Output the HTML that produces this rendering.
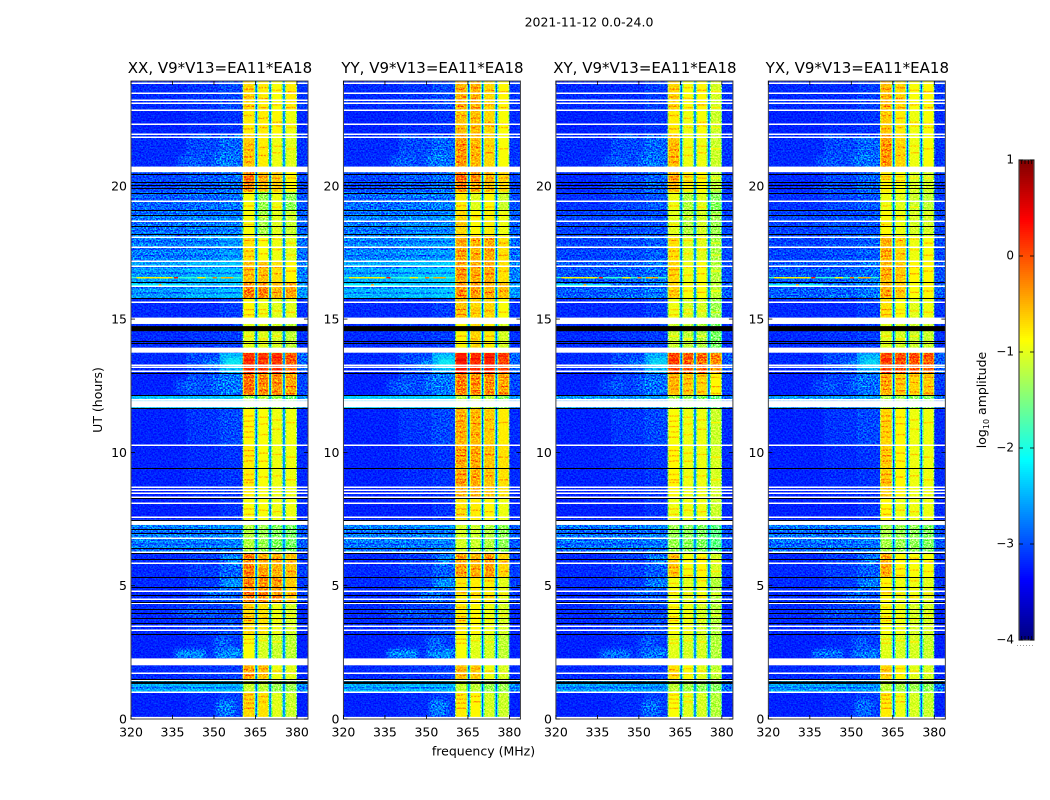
<!DOCTYPE html>
<html>
<head>
<meta charset="utf-8">
<title>2021-11-12 0.0-24.0</title>
<style>
html,body{margin:0;padding:0;background:#fff;}
svg{display:block;}
text{font-family:"DejaVu Sans","Liberation Sans",sans-serif;fill:#000;}
</style>
</head>
<body>
<svg id="figure" xmlns="http://www.w3.org/2000/svg" width="1050" height="800" viewBox="0 0 1050 800">
  <defs>
    <filter id="grain" x="0" y="0" width="100%" height="100%" color-interpolation-filters="sRGB">
      <feTurbulence type="fractalNoise" baseFrequency="0.6 0.65" numOctaves="2" seed="7"/>
      <feColorMatrix values="2.4 0 0 0 -0.75  2.4 0 0 0 -0.75  2.4 0 0 0 -0.75  0 0 0 0 1"/>
    </filter>
    <filter id="soften" filterUnits="userSpaceOnUse" x="0" y="0" width="1050" height="800" color-interpolation-filters="sRGB">
      <feGaussianBlur stdDeviation="2.5"/>
    </filter>
  </defs>
  <text x="589" y="26.500" font-size="12.5" text-anchor="middle">2021-11-12 0.0-24.0</text>
  <g id="panels"></g>
  <text x="483.500" y="755.500" font-size="12.5" text-anchor="middle">frequency (MHz)</text>
  <text transform="translate(102,400) rotate(-90)" font-size="12.5" text-anchor="middle">UT (hours)</text>
  <g id="colorbar"></g>
  <text transform="translate(986,400) rotate(-90)" font-size="12.5" text-anchor="middle">log<tspan font-size="8" dy="3">10</tspan><tspan dy="-3"> amplitude</tspan></text>
</svg>
<script>
const panelTitles = ['XX, V9*V13=EA11*EA18', 'YY, V9*V13=EA11*EA18', 'XY, V9*V13=EA11*EA18', 'YX, V9*V13=EA11*EA18'];
const xTickLabels = [320, 335, 350, 365, 380];
const yTickLabels = [0, 5, 10, 15, 20];
const colorTicks = [1, 0, -1, -2, -3, -4];

/* frequency edges (MHz) of heatmap columns */
const freqEdges = [320, 340, 352, 360.4, 360.8, 364.5, 364.85, 365.1, 365.5, 365.75, 366.1, 369.5, 369.85, 370.1, 370.5, 370.75, 371.1, 374.5, 374.85, 375.1, 375.5, 375.75, 376.1, 379.65, 380, 384];
/* hour edges of heatmap rows, top to bottom */
const hourEdges = [24, 22.91, 22.01, 20.58, 19.83, 19.15, 18.17, 17.19, 16.44, 15.84, 14.86, 13.77, 13.02, 12.19, 11.7, 10.31, 8.31, 7.49, 6.25, 5.34, 4.33, 3.2, 2.26, 1.47, 1.02, 0];

/* log10 amplitude per row: 320-340, 340-352, 352-360, band1, band2, band3, band4, upper edge */
const xxLevels = [
  [-3.15,-3.1,-3,-.7,-.8,-.9,-.8,-3.1],
  [-3.2,-3.15,-3.1,-.8,-.8,-.85,-.95,-3.15],
  [-3.15,-3,-2.85,-.65,-.8,-.95,-1,-3.1],
  [-3,-2.9,-2.8,-.35,-.6,-.65,-.85,-3],
  [-2.85,-2.8,-2.75,-.9,-1.3,-.95,-1.35,-2.95],
  [-2.75,-2.7,-2.65,-.9,-1.25,-1,-1.1,-2.85],
  [-2.7,-2.65,-2.55,-.75,-.9,-.95,-1,-2.8],
  [-2.55,-2.45,-2.4,-.6,-.6,-.75,-.85,-2.7],
  [-2.55,-2.45,-2.4,-.35,-.35,-.55,-.5,-2.6],
  [-3.15,-3.15,-3.05,-.85,-.95,-1,-1,-3.1],
  [-3.15,-3.1,-3.05,-1,-1,-1.05,-1.15,-3.1],
  [-3.15,-3,-2.5,.1,.05,.1,-.1,-2.85],
  [-3.2,-3,-2.75,-.3,-.4,-.4,-.5,-3],
  [-2.4,-2.4,-2.35,-1.3,-1.2,-1.3,-1.5,-2.6],
  [-3.2,-3.1,-3,-.85,-.9,-.95,-.95,-3.15],
  [-3.2,-3.15,-3.1,-.8,-.9,-.95,-.95,-3.15],
  [-3.2,-3.2,-3.1,-.9,-.9,-.95,-.95,-3.15],
  [-2.7,-2.7,-2.65,-1.2,-1.3,-1.4,-1.45,-2.9],
  [-3.15,-3.05,-2.85,-.35,-.5,-.55,-.6,-3.05],
  [-3.15,-3.05,-2.9,-.35,-.4,-.45,-.65,-3.05],
  [-3.15,-3.05,-3,-.7,-.75,-.95,-1.05,-3.15],
  [-3.2,-3.15,-3.05,-.9,-1.05,-1.1,-1.15,-3.2],
  [-3.15,-3.1,-3.05,-.5,-.6,-.95,-1,-3.15],
  [-2.5,-2.45,-2.45,-1.1,-1.15,-1.3,-1.3,-2.7],
  [-3.2,-3.15,-3.05,-.7,-.75,-1,-1.1,-3.2]
];
const yyLevels = [
  [-3.15,-3.1,-3,-.55,-.55,-.7,-.85,-3.1],
  [-3.2,-3.15,-3.1,-.6,-.6,-.7,-.9,-3.15],
  [-3.15,-3,-2.85,-.45,-.55,-.7,-.9,-3.1],
  [-3,-2.9,-2.8,-.3,-.45,-.55,-.7,-3],
  [-2.8,-2.75,-2.7,-.8,-1,-.85,-1.1,-2.95],
  [-2.7,-2.65,-2.6,-.7,-.85,-.8,-.95,-2.85],
  [-2.65,-2.6,-2.55,-.5,-.55,-.5,-.75,-2.8],
  [-2.5,-2.4,-2.35,-.45,-.5,-.5,-.75,-2.7],
  [-2.45,-2.4,-2.35,-.4,-.45,-.5,-.6,-2.6],
  [-3.15,-3.15,-3.05,-.6,-.7,-.7,-.9,-3.1],
  [-3.15,-3.1,-3.05,-.85,-.7,-.8,-1.05,-3.1],
  [-3.15,-3,-2.5,.25,.15,.2,0,-2.85],
  [-3.2,-3,-2.75,-.35,-.4,-.4,-.5,-3],
  [-2.35,-2.35,-2.3,-1.2,-1.1,-1.2,-1.4,-2.6],
  [-3.2,-3.1,-3,-.55,-.55,-.65,-.8,-3.15],
  [-3.2,-3.15,-3.1,-.5,-.5,-.6,-.75,-3.15],
  [-3.2,-3.2,-3.1,-.75,-.8,-.85,-.95,-3.15],
  [-2.7,-2.7,-2.65,-1.05,-1.1,-1.2,-1.35,-2.9],
  [-3.15,-3.05,-2.9,-.5,-.55,-.45,-.7,-3.05],
  [-3.15,-3.05,-2.95,-.8,-.8,-.8,-1,-3.05],
  [-3.15,-3.05,-3,-.8,-.85,-.95,-1.05,-3.15],
  [-3.2,-3.15,-3.05,-.9,-1,-1.05,-1.15,-3.2],
  [-3.15,-3.1,-3.05,-.6,-.65,-.95,-1.05,-3.15],
  [-2.5,-2.45,-2.45,-1.1,-1.15,-1.3,-1.3,-2.7],
  [-3.2,-3.15,-3.05,-.8,-.85,-1.05,-1.1,-3.2]
];
const xyLevels = [
  [-3.15,-3.15,-3.05,-.7,-.9,-.85,-1.05,-3.1],
  [-3.2,-3.15,-3.1,-.8,-.95,-.9,-1.1,-3.15],
  [-3.15,-3,-2.85,-.6,-.95,-.95,-1.1,-3.1],
  [-3.15,-3,-2.85,-.55,-.8,-.85,-1.15,-3.05],
  [-3.1,-3,-2.9,-.95,-1.2,-1,-1.4,-3.05],
  [-3,-2.95,-2.9,-1,-1.2,-1.05,-1.3,-3],
  [-3,-2.95,-2.85,-.75,-1,-1,-1.25,-3],
  [-2.9,-2.85,-2.75,-.7,-.95,-.9,-1.2,-2.95],
  [-2.85,-2.8,-2.7,-.7,-.9,-.9,-1.15,-2.9],
  [-3.15,-3.15,-3.05,-.95,-1.05,-1.05,-1.3,-3.1],
  [-3.15,-3.1,-3.05,-1.1,-1.15,-1.2,-1.45,-3.1],
  [-3.15,-3,-2.55,0,-.15,-.2,-.35,-2.9],
  [-3.2,-3.05,-2.8,-.6,-.65,-.7,-.85,-3.05],
  [-2.6,-2.6,-2.55,-1.3,-1.35,-1.4,-1.6,-2.8],
  [-3.2,-3.1,-3,-.9,-.95,-.95,-1.1,-3.15],
  [-3.2,-3.15,-3.1,-.85,-.95,-.95,-1.05,-3.15],
  [-3.2,-3.2,-3.1,-.95,-.95,-.95,-1.1,-3.15],
  [-2.75,-2.75,-2.7,-1.3,-1.35,-1.4,-1.6,-2.95],
  [-3.15,-3.05,-2.9,-.65,-.9,-.85,-1.05,-3.1],
  [-3.15,-3.05,-2.95,-.95,-1,-.95,-1.2,-3.1],
  [-3.15,-3.05,-3,-.9,-.95,-1.05,-1.2,-3.15],
  [-3.2,-3.15,-3.05,-1,-1.05,-1.05,-1.2,-3.2],
  [-3.15,-3.1,-3.05,-.75,-.9,-1,-1.15,-3.15],
  [-2.55,-2.55,-2.55,-1.15,-1.25,-1.35,-1.4,-2.8],
  [-3.2,-3.15,-3.05,-.9,-1,-1.05,-1.2,-3.2]
];
const yxLevels = [
  [-3.15,-3.15,-3.05,-.6,-.7,-.9,-.85,-3.1],
  [-3.2,-3.15,-3.1,-.65,-.8,-.95,-.9,-3.15],
  [-3.15,-3,-2.85,-.45,-.7,-.95,-.9,-3.1],
  [-3.15,-3,-2.85,-.8,-.9,-1.05,-1.05,-3.05],
  [-3.1,-3,-2.9,-.95,-1,-1.1,-1.15,-3.05],
  [-3,-2.95,-2.9,-.85,-.95,-1.05,-1.05,-3],
  [-3,-2.95,-2.85,-.55,-.7,-.95,-.9,-3],
  [-2.9,-2.85,-2.75,-.55,-.65,-.85,-.85,-2.95],
  [-2.85,-2.8,-2.7,-.55,-.65,-.9,-.85,-2.9],
  [-3.15,-3.15,-3.05,-.75,-.9,-1,-.95,-3.1],
  [-3.15,-3.1,-3.05,-1,-1.05,-1.1,-1.1,-3.1],
  [-3.15,-3,-2.55,0,-.05,-.1,-.15,-2.9],
  [-3.2,-3.05,-2.8,-.55,-.65,-.7,-.65,-3.05],
  [-2.6,-2.6,-2.55,-1.25,-1.3,-1.4,-1.4,-2.8],
  [-3.2,-3.1,-3,-.7,-.85,-.95,-.95,-3.15],
  [-3.2,-3.15,-3.1,-.65,-.85,-.95,-.95,-3.15],
  [-3.2,-3.2,-3.1,-.85,-.95,-.95,-.95,-3.15],
  [-2.75,-2.75,-2.7,-1.25,-1.3,-1.35,-1.4,-2.95],
  [-3.15,-3.05,-2.9,-.55,-.85,-.9,-.9,-3.1],
  [-3.15,-3.05,-2.95,-.85,-.95,-.95,-1,-3.1],
  [-3.15,-3.05,-3,-.9,-.95,-1.05,-1.05,-3.15],
  [-3.2,-3.15,-3.05,-1,-1.05,-1.05,-1.1,-3.2],
  [-3.15,-3.1,-3.05,-.7,-.85,-1,-1.05,-3.15],
  [-2.55,-2.55,-2.55,-1.15,-1.25,-1.3,-1.35,-2.8],
  [-3.2,-3.15,-3.05,-.8,-.95,-1.05,-1.1,-3.2]
];
/* level of the dark line between sub-bands, per panel */
const gapLevels = [-3, -3, -3.05, -3.05];
const shoulderLevel = -2.1;
const bandEdgeDrop = 0.45;
const stripeBoost = 0.27;

/* hours where a sub-band shows a brighter row */
const band1Stripes = [23.7,23.4,23.05,22.7,22.2,21.6,21.4,21.15,20.95,20.4,20.3,19.3,18.6,18,17.6,17.4,16.9,16.7,16.1,15.95,15.4,15.2,14.4,13.5,12.85,12.7,12.55,12.4,11.4,11.2,11,10.8,10.6,10.1,9.9,9.7,9.2,9,8.9,7.9,7.7,6.1,5.7,5.5,5.1,4.75,4.2,3.85,3.7,3,2.85,1.85,1.65,.9,.75,.6,.4];
const band2Stripes = [23.75,23.35,23,22.6,22.25,21.5,21.2,20.4,20.25,18.9,18,17.5,17,16.7,16.1,15.4,15.25,14.3,13.55,12.8,12.6,12.35,11.35,11.1,10.7,10,9.7,9.1,7.85,6,5.65,5.4,4.7,3.8,2.95,1.9,1.7,.85,.65];
const band3Stripes = [23.65,23.1,22.45,22.3,21.55,21.3,20.35,19.25,18.05,17.65,17,16.75,16.05,15.35,14.4,13.6,12.9,12.65,12.3,11.25,10.9,9.95,9.15,7.8,6.05,5.6,5.2,4.6,3.75,2.9,1.8];
const band4Stripes = [23.6,23,22.4,22.25,21.45,20.35,18.95,17.9,17.45,16.85,16.1,15.3,13.65,12.85,12.5,12.25,11.15,9.85,9,5.9,5.55,4.7,3.9,1.75];

/* sky emission patches: low freq, high freq, upper hour, lower hour, level */
const skyPatches = [
  [351, 357.5, 0.7, 0.12, -2.6],
  [336, 347, 2.6, 2.28, -2.4],
  [350, 360, 2.65, 2.28, -2.4],
  [350, 356, 3.1, 2.5, -2.8],
  [354, 360.4, 13.6, 13.2, -2.05],
  [347, 354, 13.5, 13.2, -2.55],
  [336, 345, 12.75, 12.25, -2.85],
  [349, 356, 12.9, 12.3, -2.75],
  [336, 345, 20.1, 19.9, -2.85],
  [337, 346, 21.2, 20.7, -2.85],
  [350, 358, 21.3, 20.7, -2.7],
  [354, 360.4, 6.2, 5.8, -2.55],
  [353, 360.4, 5.3, 4.9, -2.5],
  [347, 356, 4.85, 4.45, -2.75],
  [335, 352, 4.1, 3.9, -2.8]
];
/* narrowband interference: hour, low freq, high freq, level */
const rfiLines = [
  [16.6, 320, 360, -1.85],
  [16.6, 322, 335, -0.8],
  [16.6, 335.5, 337, 0.3],
  [16.6, 344, 347, -0.8],
  [16.6, 349.5, 351, -0.2],
  [16.6, 352.5, 357, -0.5],
  [16.33, 320, 340, -2.1],
  [16.33, 330, 331, -0.4]
];
/* dim striped rows over the low band: upper hour, lower hour */
const dimRows = [
  [19.6, 19.55], [19.05, 19], [18.72, 18.67], [18.4, 18.35], [17.98, 17.93], [17.7, 17.65], [17.45, 17.4],
  [17.02, 16.97], [16.8, 16.75], [16.25, 16.2], [16.05, 16], [7.05, 7], [6.82, 6.77], [6.6, 6.55], [6.4, 6.35], [1.2, 1.15]
];
/* thin flagged rows shown white (hours) */
const whiteLines = [23.92,23.56,23.29,23.19,22.91,22.39,22.01,21.89,19.49,18.75,18.15,17.77,17.24,17.04,16.29,15.7,13.32,13.23,13.09,10.31,8.72,8.62,8.49,8.36,8.11,7.61,6.82,6.29,5.86,4.83,4.5,4.35,3.5,3.35,1.72,1.47,1.03];
/* wide flagged blocks shown white: upper hour, lower hour */
const whiteBlocks = [[20.78,20.57],[15.1,14.86],[13.97,13.78],[12.04,11.97],[11.96,11.73],[7.49,7.3],[2.28,2.02],[0.08,0]];
/* thin dropped rows shown black (hours) */
const blackLines = [20.5,20.21,20.09,19.99,19.8,19.14,18.96,18.56,18.25,16.44,15.84,14.23,14.13,13,12.19,11.69,9.45,8.31,7.49,7.14,6.98,6.44,6.23,6.01,5.33,4.98,4.67,4.41,4.14,3.98,3.79,3.62,3.19,1.5];
/* wide dropped blocks shown black: upper hour, lower hour */
const blackBlocks = [[14.78,14.59],[1.41,1.32]];

const SVG_NS = 'http://www.w3.org/2000/svg';
const panelLeft0 = 131, panelStep = 212.45, panelWidth = 177, panelTop = 81, panelBottom = 719;
const freqMin = 320, freqMax = 384, hourMin = 0, hourMax = 23.93;
/* the hour readings above were taken against a 0-24 span; this maps them onto the true axis */
const readingSpan = 24;

function xScale(f, left) { return left + (f - freqMin) / (freqMax - freqMin) * panelWidth; }
function yScale(h) { return panelBottom - (h - hourMin) / (hourMax - hourMin) * (panelBottom - panelTop); }
function markY(h) { return yScale(h * hourMax / readingSpan); }
function lerp(a, b, t) { return a + (b - a) * t; }
function jet(v) {
  const t = Math.max(0, Math.min(1, (v + 4) / 5));
  const r = Math.min(4 * t - 1.5, -4 * t + 4.5);
  const g = Math.min(4 * t - 0.5, -4 * t + 3.5);
  const b = Math.min(4 * t + 0.5, -4 * t + 2.5);
  const c = x => Math.round(255 * Math.max(0, Math.min(1, x)));
  return 'rgb(' + c(r) + ',' + c(g) + ',' + c(b) + ')';
}
function make(tag, parent, attrs) {
  const el = document.createElementNS(SVG_NS, tag);
  for (const k in attrs) el.setAttribute(k, attrs[k]);
  parent.appendChild(el);
  return el;
}
function rowIndexAt(h) {
  for (let r = 0; r < hourEdges.length - 1; r++) {
    if (h <= hourEdges[r] && h >= hourEdges[r + 1]) return r;
  }
  return 0;
}

const allLevels = [xxLevels, yyLevels, xyLevels, yxLevels];
const allStripes = [band1Stripes, band2Stripes, band3Stripes, band4Stripes];
/* interior frequency range of each sub-band */
const bandInterior = [[360.8, 364.5], [366.1, 369.5], [371.1, 374.5], [376.1, 379.65]];
/* column -> index in a row's levels; -1 gap line, -2 gap shoulder */
const columnToLevel = [0, 1, 2, 3, 3, 3, -2, -1, -2, 4, 4, 4, -2, -1, -2, 5, 5, 5, -2, -1, -2, 6, 6, 6, 7];
/* columns at a sub-band's edge, drawn dimmer */
const columnIsEdge = [0, 0, 0, 1, 0, 1, 0, 0, 0, 1, 0, 1, 0, 0, 0, 1, 0, 1, 0, 0, 0, 1, 0, 1, 0];
const panelsRoot = document.getElementById('panels');

panelTitles.forEach(function (title, p) {
  const left = panelLeft0 + panelStep * p;
  const panel = make('g', panelsRoot, {});
  
  
  const levels = allLevels[p];
  const x = f => xScale(f, left);

  const heat = make('g', panel, { style: 'isolation:isolate' });
  
  

  function drawColumns(from, to) {
    levels.forEach(function (row, r) {
      for (let c = from; c < to; c++) {
        const idx = columnToLevel[c];
        let val;
        if (idx === -1) val = gapLevels[p];
        else if (idx === -2) val = shoulderLevel;
        else val = row[idx] - (columnIsEdge[c] ? bandEdgeDrop : 0);
        const cell = make('rect', heat, {
          x: x(freqEdges[c]), y: markY(hourEdges[r]),
          width: x(freqEdges[c + 1]) - x(freqEdges[c]) + 0.2,
          height: markY(hourEdges[r + 1]) - markY(hourEdges[r]) + 0.3,
          fill: jet(val)
        });
        
        
      }
    });
  }

  drawColumns(0, 3);
  const skyGroup = make('g', heat, { filter: 'url(#soften)', opacity: p < 2 ? 0.75 : 0.55 });
  
  
  skyPatches.forEach(function (s) {
    const patch = make('rect', skyGroup, {
      x: x(s[0]), y: markY(s[2]), width: x(s[1]) - x(s[0]), height: markY(s[3]) - markY(s[2]),
      fill: jet(s[4])
    });
    
    
  });
  dimRows.forEach(function (d) {
    const dim = make('rect', heat, {
      x: x(320), y: markY(d[0]), width: x(360.4) - x(320), height: Math.max(1, markY(d[1]) - markY(d[0])),
      fill: jet(-3.2), opacity: 0.5
    });
    
    
  });
  drawColumns(3, columnToLevel.length);

  allStripes.forEach(function (hours, b) {
    hours.forEach(function (h) {
      const val = levels[rowIndexAt(h)][3 + b] + stripeBoost;
      const stripe = make('rect', heat, {
        x: x(bandInterior[b][0]), y: markY(h) - 0.7,
        width: x(bandInterior[b][1]) - x(bandInterior[b][0]), height: 1.4,
        fill: jet(val)
      });
      
      
    });
  });

  const grain = make('rect', heat, {
    x: left, y: panelTop, width: panelWidth, height: panelBottom - panelTop,
    filter: 'url(#grain)', style: 'mix-blend-mode:overlay'
  });
  
  

  rfiLines.forEach(function (l) {
    const rfi = make('rect', panel, {
      x: x(l[1]), y: markY(l[0]) - 0.7, width: x(l[2]) - x(l[1]), height: 1.4, fill: jet(l[3])
    });
    
    
  });
  whiteLines.forEach(function (h) {
    const flag = make('rect', panel, {
      x: left, y: Math.round(markY(h)) - 0.5, width: panelWidth, height: 1.5, fill: '#fff'
    });
    
    
  });
  whiteBlocks.forEach(function (w) {
    const block = make('rect', panel, {
      x: left, y: markY(w[0]), width: panelWidth, height: markY(w[1]) - markY(w[0]), fill: '#fff'
    });
    
    
  });
  blackLines.forEach(function (h) {
    const drop = make('rect', panel, {
      x: left, y: Math.round(markY(h)), width: panelWidth, height: 1, fill: '#000'
    });
    
    
  });
  blackBlocks.forEach(function (b) {
    const blockB = make('rect', panel, {
      x: left, y: markY(b[0]), width: panelWidth, height: markY(b[1]) - markY(b[0]), fill: '#000'
    });
    
    
  });

  const frame = make('rect', panel, {
    x: left, y: panelTop, width: panelWidth, height: panelBottom - panelTop,
    fill: 'none', stroke: '#444', 'stroke-width': 1
  });
  
  

  xTickLabels.forEach(function (t) {
    const px = x(t);
    [[panelBottom, panelBottom - 4], [panelTop, panelTop + 4]].forEach(function (pair) {
      const tick = make('line', panel, { x1: px, x2: px, y1: pair[0], y2: pair[1], stroke: '#000', 'stroke-width': 0.8 });
      
      
    });
    const label = make('text', panel, { x: px, y: panelBottom + 17.5, 'font-size': 12.5, 'text-anchor': 'middle' });
    label.textContent = t;
    
    
  });
  yTickLabels.forEach(function (t) {
    const py = yScale(t);
    [[left, left + 4], [left + panelWidth, left + panelWidth - 4]].forEach(function (pair) {
      const tick = make('line', panel, { x1: pair[0], x2: pair[1], y1: py, y2: py, stroke: '#000', 'stroke-width': 0.8 });
      
      
    });
    const label = make('text', panel, { x: left - 4, y: py + 4.5, 'font-size': 12.5, 'text-anchor': 'end' });
    label.textContent = t;
    
    
  });
  const heading = make('text', panel, { x: left + panelWidth / 2 + 0.5, y: 73, 'font-size': 15, 'text-anchor': 'middle' });
  heading.textContent = title;
  
  
});

/* colorbar */
const cbarRoot = document.getElementById('colorbar');
const cbarLeft = 1019, cbarRight = 1034, cbarTop = 160, cbarBottom = 640, cbarMin = -4, cbarMax = 1;
const cbarEndTickOffsets = [2.7, 6, 9.3, 12.7];
function cbarY(v) { return cbarBottom - (v - cbarMin) / (cbarMax - cbarMin) * (cbarBottom - cbarTop); }
for (let py = cbarTop; py < cbarBottom; py += 2) {
  const v = lerp(cbarMax, cbarMin, (py + 1 - cbarTop) / (cbarBottom - cbarTop));
  const strip = make('rect', cbarRoot, { x: cbarLeft, y: py, width: cbarRight - cbarLeft, height: 2.3, fill: jet(v) });
  
  
}
const cbarFrame = make('rect', cbarRoot, {
  x: cbarLeft, y: cbarTop, width: cbarRight - cbarLeft, height: cbarBottom - cbarTop,
  fill: 'none', stroke: '#444', 'stroke-width': 1.2
});


cbarEndTickOffsets.forEach(function (d) {
  [[cbarTop, cbarTop + 4], [cbarBottom, cbarBottom - 4]].forEach(function (pair) {
    const endTick = make('line', cbarRoot, { x1: cbarLeft + d, x2: cbarLeft + d, y1: pair[0], y2: pair[1], stroke: '#000', 'stroke-width': 0.8 });
    
    
  });
});
const cbarDots = make('line', cbarRoot, { x1: 1017, x2: 1035, y1: 645.5, y2: 645.5, stroke: '#999', 'stroke-width': 1, 'stroke-dasharray': '1 2' });


colorTicks.forEach(function (t) {
  const py = cbarY(t);
  [[cbarLeft, cbarLeft + 4], [cbarRight, cbarRight - 4]].forEach(function (pair) {
    const tick = make('line', cbarRoot, { x1: pair[0], x2: pair[1], y1: py, y2: py, stroke: '#000', 'stroke-width': 0.8 });
    
    
  });
  const label = make('text', cbarRoot, { x: cbarLeft - 5, y: py + 3.5, 'font-size': 12, 'text-anchor': 'end' });
  label.textContent = String(t).replace('-', '\u2212');
  
  
});
</script>
</body>
</html>
